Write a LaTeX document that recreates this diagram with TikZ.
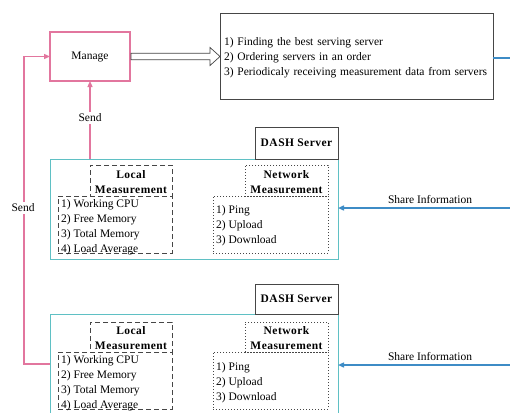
\documentclass[tikz,border=0pt]{standalone}
\usepackage{fontspec}
\setmainfont{Liberation Serif}
\usetikzlibrary{arrows.meta,calc}
\definecolor{pinkc}{RGB}{226,118,158}
\definecolor{tealc}{RGB}{95,192,196}
\definecolor{bluec}{RGB}{62,140,198}
\definecolor{darkc}{RGB}{70,70,70}
\begin{document}
\begin{tikzpicture}[x=1pt,y=-1pt,
  txt/.style={font=\fontsize{11.5}{15}\selectfont},
  hdr/.style={font=\fontsize{11.5}{15}\selectfont\bfseries\addfontfeatures{LetterSpace=4}},
  box/.style={anchor=north west, inner sep=0pt, outer sep=0pt},
  pinkbox/.style={box, draw=pinkc, line width=1.2pt},
  tealbox/.style={box, draw=tealc, line width=1pt},
  darkbox/.style={box, draw=darkc, line width=0.7pt, fill=white},
  dashbox/.style={box, draw=darkc, line width=0.8pt, dash pattern=on 5pt off 3pt},
  dotbox/.style={box, draw=darkc, line width=0.8pt, dash pattern=on 1pt off 2pt},
  listtext/.style={txt, align=left, anchor=north west, inner ysep=0pt, inner xsep=3pt},
  sendline/.style={draw=pinkc, line width=1.2pt},
  sendarrow/.style={sendline, -{Triangle[length=6pt,width=5pt]}},
  sharearrow/.style={draw=bluec, line width=1.4pt, -{Triangle[length=6pt,width=5pt]}},
  lbl/.style={txt, fill=white, inner sep=1.5pt}
]
\useasboundingbox (0,0) rectangle (510,412);
\clip (0,0) rectangle (510,412);
\fill[white] (0,0) rectangle (510,412);

% top part
\node[pinkbox, minimum width=80pt, minimum height=49pt, txt] (manage) at (50,32) {Manage};
\node[box, draw=darkc, line width=0.7pt, minimum width=273pt, minimum height=86pt,
      txt, align=left, text width=265pt, inner xsep=4pt] (tasks) at (220,13)
  {\rule{0pt}{12pt}1) Finding the best serving server\\2) Ordering servers in an order\\3) Periodicaly receiving measurement data from servers};

% server 1
\node[tealbox, minimum width=288pt, minimum height=100pt] (srv1) at (50,159) {};
\node[darkbox, minimum width=83pt, minimum height=32pt, hdr] (dash1) at (255,127) {DASH Server};
\node[dashbox, minimum width=82pt, minimum height=31pt, hdr, align=center] (lh1) at (90,165) {\rule{0pt}{12pt}Local\\Measurement};
\node[dashbox, minimum width=114pt, minimum height=57pt] (ll1) at (58,196) {};
\node[listtext] (ll1t) at (58,199.5) {1) Working CPU\\2) Free Memory\\3) Total Memory\\4) Load Average};
\node[dotbox, minimum width=83pt, minimum height=31pt, hdr, align=center] (nh1) at (245,165) {\rule{0pt}{12pt}Network\\Measurement};
\node[dotbox, minimum width=115pt, minimum height=57pt] (nl1) at (213,196) {};
\node[listtext] (nl1t) at (213,205) {1) Ping\\2) Upload\\3) Download};

% server 2
\node[tealbox, minimum width=288pt, minimum height=110pt] (srv2) at (50,314) {};
\node[darkbox, minimum width=83pt, minimum height=30pt, hdr] (dash2) at (255,284) {DASH Server};
\node[dashbox, minimum width=82pt, minimum height=30pt, hdr, align=center] (lh2) at (90,322) {\rule{0pt}{11pt}Local\\Measurement};
\node[dashbox, minimum width=114pt, minimum height=57pt] (ll2) at (58,352) {};
\node[listtext] (ll2t) at (58,355.5) {1) Working CPU\\2) Free Memory\\3) Total Memory\\4) Load Average};
\node[dotbox, minimum width=83pt, minimum height=30pt, hdr, align=center] (nh2) at (245,322) {\rule{0pt}{11pt}Network\\Measurement};
\node[dotbox, minimum width=115pt, minimum height=57pt] (nl2) at (213,352) {};
\node[listtext] (nl2t) at (213,362.5) {1) Ping\\2) Upload\\3) Download};

% hollow arrow manage -> tasks
\draw[darkc, line width=0.7pt, fill=white]
  ($(manage.east)+(1,-3.3)$) -- ($(manage.east)+(80,-3.3)$) -- ($(manage.east)+(80,-9)$)
  -- (tasks.west |- manage.east) -- ($(manage.east)+(80,9)$) -- ($(manage.east)+(80,3.3)$)
  -- ($(manage.east)+(1,3.3)$) -- cycle;

% send arrows
\draw[sendarrow] (srv1.north -| manage.south) -- (manage.south);
\node[lbl] (send1) at (90,118) {Send};
\coordinate (lft) at (24,364);
\draw[sendarrow] (srv2.west |- lft) -- (lft) |- (manage.west);
\node[lbl] (send2) at (23,208) {Send};

% blue lines
\coordinate (r0) at (512,58);
\draw[draw=bluec, line width=1.4pt] (tasks.east |- r0) -- (r0);
\coordinate (r1) at (512,208);
\draw[sharearrow] (r1) -- (r1 -| srv1.east);
\node[txt] (sh1) at (430,200) {Share Information};
\coordinate (r2) at (512,365);
\draw[sharearrow] (r2) -- (r2 -| srv2.east);
\node[txt] (sh2) at (430,357) {Share Information};
\end{tikzpicture}
\end{document}
